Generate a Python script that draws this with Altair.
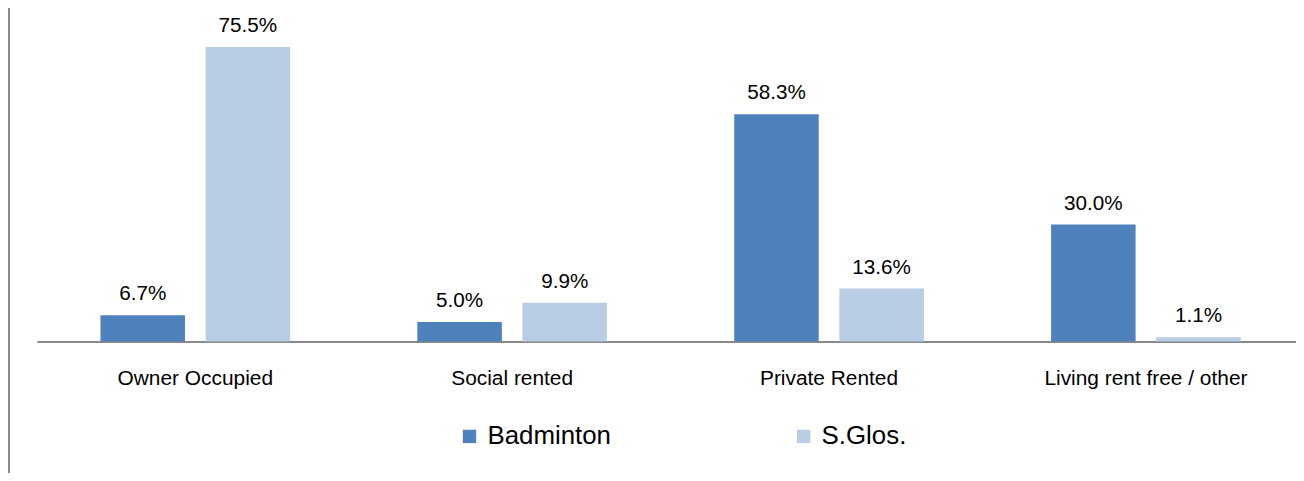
import altair as alt
import pandas as pd

categories = ["Owner Occupied", "Social rented", "Private Rented", "Living rent free / other"]
series = ["Badminton", "S.Glos."]
badminton = [6.7, 5.0, 58.3, 30.0]
sglos = [75.5, 9.9, 13.6, 1.1]
colors = ["#4F81BD", "#B9CDE5"]

rows = []
for c, b, s in zip(categories, badminton, sglos):
    rows.append({"category": c, "series": series[0], "value": b})
    rows.append({"category": c, "series": series[1], "value": s})
df = pd.DataFrame(rows)
df["label"] = df["value"].map(lambda v: f"{v:.1f}%")

PLOT_W = 1266
PLOT_H = 334
BAND = 318.6
FONT = "Liberation Sans"

x = alt.X(
    "category:N",
    sort=categories,
    scale=alt.Scale(range=[0, BAND * 4], paddingInner=0, paddingOuter=0),
    axis=alt.Axis(
        title=None, labelAngle=0, ticks=False, labelFontSize=21, labelColor="#000000",
        labelPadding=26, domainColor="#898989", domainWidth=2, labelFont=FONT,
        labelOverlap=False, labelLimit=0,
    ),
)
xoff = alt.XOffset("series:N", sort=series, scale=alt.Scale(paddingInner=0.196, paddingOuter=0.605))
y = alt.Y("value:Q", scale=alt.Scale(domain=[0, 85.2], nice=False, zero=True), axis=None)
color = alt.Color(
    "series:N",
    sort=series,
    scale=alt.Scale(domain=series, range=colors),
    legend=alt.Legend(
        title=None, orient="none", legendX=422, legendY=416.5, direction="horizontal",
        symbolType="square", symbolSize=180, symbolStrokeWidth=0, labelFontSize=26,
        labelFont=FONT, labelColor="#000000", labelOffset=5, columnPadding=180,
        padding=0, labelLimit=0,
    ),
)

bars = alt.Chart(df).mark_bar().encode(x=x, xOffset=xoff, y=y, color=color)
labels = alt.Chart(df).mark_text(
    dy=-15, baseline="alphabetic", fontSize=20.8, font=FONT, color="#000000"
).encode(x=x, xOffset=xoff, y=y, text="label:N")

border = alt.Chart(pd.DataFrame({"a": [0]})).mark_rule(color="#8c8c8c", strokeWidth=2).encode(
    x=alt.value(-28), y=alt.value(-10), y2=alt.value(480)
)

chart = (
    alt.layer(bars, labels, border)
    .properties(
        width=PLOT_W,
        height=PLOT_H,
        autosize=alt.AutoSizeParams(type="none"),
        padding={"left": 29, "top": 0, "right": 0, "bottom": 131},
        background="#ffffff",
    )
    .configure(font=FONT)
    .configure_view(stroke=None, strokeWidth=0)
)

chart.save("out.html", embed_options={"renderer": "svg", "actions": False})
